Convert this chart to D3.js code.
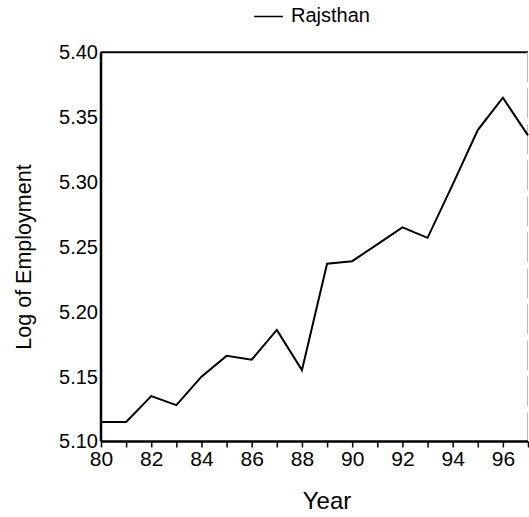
<!DOCTYPE html>
<html>
<head>
<meta charset="utf-8">
<script src="https://cdn.jsdelivr.net/npm/d3@7"></script>
<style>
body { margin: 0; background: #fff; }
svg { display: block; font-family: Arial, "Liberation Sans", sans-serif; }
</style>
</head>
<body>
<svg class="chart"></svg>
<script>
var years = [80, 81, 82, 83, 84, 85, 86, 87, 88, 89, 90, 91, 92, 93, 94, 95, 96, 97];
var rajsthan = [5.115, 5.115, 5.135, 5.128, 5.150, 5.166, 5.163, 5.186, 5.155, 5.237,
                5.239, 5.252, 5.265, 5.257, 5.298, 5.340, 5.365, 5.336];
var yTicks = [5.10, 5.15, 5.20, 5.25, 5.30, 5.35, 5.40];
var xLabels = [80, 82, 84, 86, 88, 90, 92, 94, 96];

var width  = 529;
var height = 517;

var svg = d3.select('.chart')
    .attr('width', width)
    .attr('height', height);

var x = d3.scaleLinear().domain([80, 97]).range([101, 528]);
var y = d3.scaleLinear().domain([5.10, 5.40]).range([441.5, 52.3]);

// frame: top and faint right side
svg.append('line')
    .attr('x1', x(80)).attr('x2', x(97))
    .attr('y1', y(5.40)).attr('y2', y(5.40))
    .attr('stroke', '#000').attr('stroke-width', 2);
svg.append('line')
    .attr('x1', x(97) - 0.5).attr('x2', x(97) - 0.5)
    .attr('y1', y(5.40)).attr('y2', y(5.10))
    .attr('stroke', '#bbb').attr('stroke-width', 1)
    .attr('stroke-dasharray', '30,6');

var xAxis = d3.axisBottom(x)
    .tickValues(years)
    .tickSize(6)
    .tickPadding(4)
    .tickFormat(function(d) { return xLabels.indexOf(d) >= 0 ? d : ''; });
var gx = svg.append('g')
    .attr('transform', 'translate(0,' + y(5.10) + ')')
    .call(xAxis);

var yAxis = d3.axisLeft(y)
    .tickValues(yTicks)
    .tickSize(0)
    .tickPadding(3)
    .tickFormat(d3.format('.2f'));
var gy = svg.append('g')
    .attr('transform', 'translate(' + x(80) + ',0)')
    .call(yAxis);

[gx, gy].forEach(function(g) {
    g.select('.domain').attr('stroke', '#000').attr('stroke-width', 2.5);
    g.selectAll('.tick line').attr('stroke', '#000').attr('stroke-width', 1.5);
    g.selectAll('.tick text')
        .attr('fill', '#000')
        .style('font-size', '20px')
        .style('font-family', 'Arial, "Liberation Sans", sans-serif');
});
gx.selectAll('.tick text').style('font-size', '21px');
gx.select('.domain').attr('d', 'M' + x(80) + ',0H' + x(97));
gy.select('.domain').attr('d', 'M0,' + y(5.40) + 'V' + y(5.10));

var line = d3.line()
    .x(function(d, i) { return x(years[i]); })
    .y(function(d) { return y(d); });

svg.append('path')
    .datum(rajsthan)
    .attr('d', line)
    .attr('fill', 'none')
    .attr('stroke', '#000')
    .attr('stroke-width', 2)
    .attr('stroke-linejoin', 'miter');

// legend
svg.append('line')
    .attr('x1', 254).attr('x2', 283)
    .attr('y1', 16.5).attr('y2', 16.5)
    .attr('stroke', '#000').attr('stroke-width', 1.5);
svg.append('text')
    .attr('x', 291).attr('y', 21.5)
    .style('font-size', '20px')
    .text('Rajsthan');

// axis titles
svg.append('text')
    .attr('x', 327).attr('y', 509)
    .attr('text-anchor', 'middle')
    .style('font-size', '24px')
    .text('Year');

svg.append('text')
    .attr('transform', 'translate(31,257) rotate(-90)')
    .attr('text-anchor', 'middle')
    .style('font-size', '21.5px')
    .text('Log of Employment');
</script>
</body>
</html>
